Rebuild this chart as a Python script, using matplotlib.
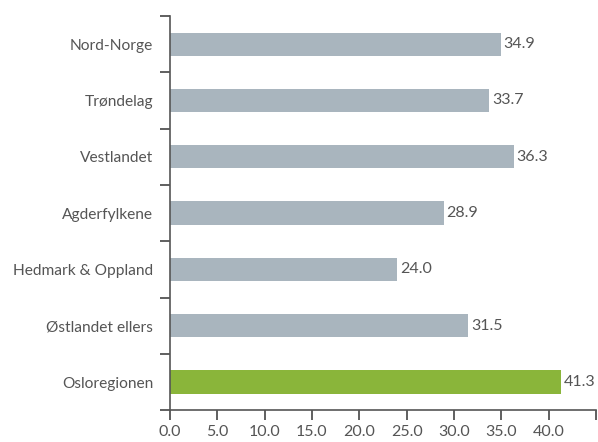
import matplotlib.pyplot as plt
import numpy as np

categories = ['Nord-Norge', 'Trøndelag', 'Vestlandet', 'Agderfylkene',
              'Hedmark & Oppland', 'Østlandet ellers', 'Osloregionen']
values = [34.9, 33.7, 36.3, 28.9, 24.0, 31.5, 41.3]
colors = ['#A9B5BE'] * 6 + ['#8AB53A']
xticks = [0, 5, 10, 15, 20, 25, 30, 35, 40, 45]
xlabels = ['0.0', '5.0', '10.0', '15.0', '20.0', '25.0', '30.0', '35.0', '40.0', '']

plt.rcParams['font.family'] = ['Lato', 'DejaVu Sans']
txt = '#555555'

fig = plt.figure(figsize=(5.98, 4.42), dpi=100)
ax = fig.add_axes([0.284, 0.072, 0.713, 0.892])

y = np.arange(len(categories))[::-1]
ax.barh(y, values, height=0.41, color=colors, zorder=2)
for yi, v in zip(y, values):
    ax.text(v + 0.3, yi, '%.1f' % v, va='center', ha='left', fontsize=11.5, color=txt)

ax.set_xlim(0, 45)
ax.set_ylim(-0.5, 6.5)
ax.set_xticks(xticks)
ax.set_xticklabels(xlabels)
ax.set_yticks(y)
ax.set_yticklabels(categories)
ax.set_yticks(np.arange(-0.5, 7, 1), minor=True)
ax.tick_params(axis='y', which='major', length=0, pad=12, labelsize=11.2, labelcolor=txt)
ax.tick_params(axis='y', which='minor', length=7, width=1.2, color='#444444')
ax.tick_params(axis='x', length=7, width=1.2, color='#444444', labelsize=11.5, labelcolor=txt, pad=4)

for s in ['top', 'right']:
    ax.spines[s].set_visible(False)
for s in ['left', 'bottom']:
    ax.spines[s].set_color('#555555')
    ax.spines[s].set_linewidth(1.2)

fig.savefig('out.png', dpi=100)
